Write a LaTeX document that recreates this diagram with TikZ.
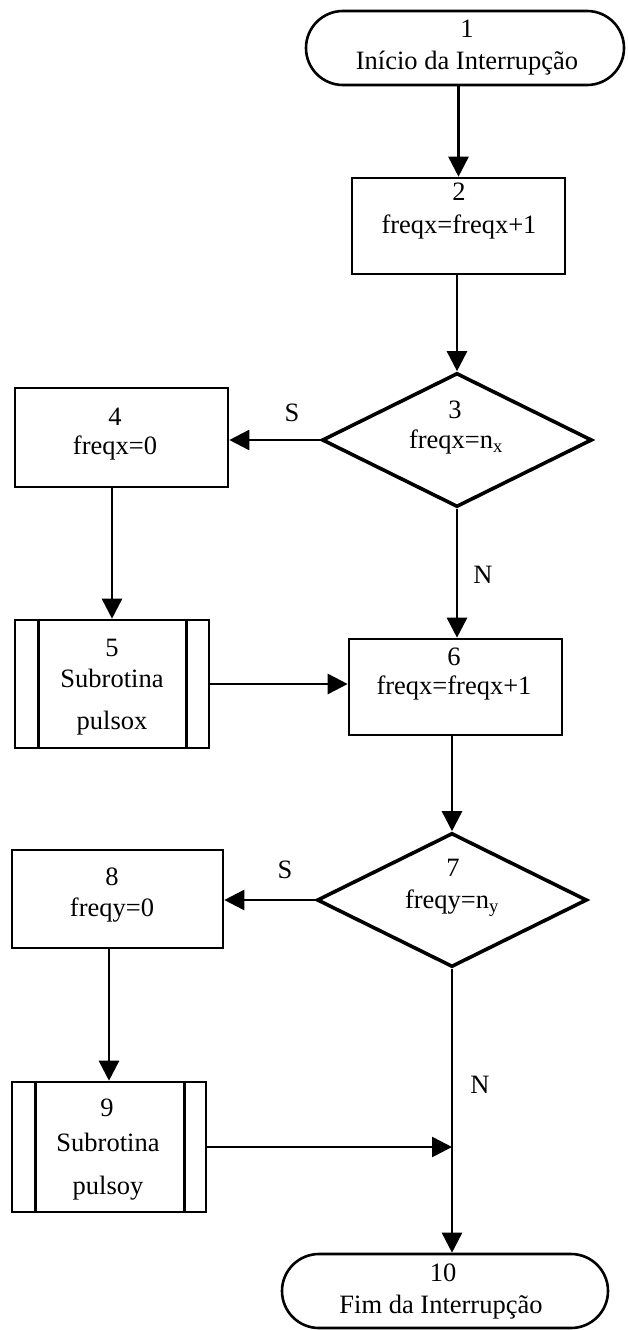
\documentclass[tikz,border=0pt]{standalone}
\usepackage{fontspec}
\setmainfont{Liberation Serif}
\usetikzlibrary{shapes.geometric,arrows.meta}
\begin{document}
\begin{tikzpicture}[x=1pt,y=-1pt,
  every node/.style={font=\fontsize{26.5}{31}\selectfont},
  shapebox/.style={draw, line width=2.6pt, inner sep=0pt, rectangle},
  term/.style={shapebox, rounded corners=37pt, minimum height=74pt},
  decis/.style={draw, line width=3.6pt, diamond, inner sep=0pt, minimum width=270pt, minimum height=134pt},
  txt/.style={inner sep=0pt, anchor=center},
  flow/.style={line width=2.6pt, -{Triangle[length=20pt,width=20pt]}},
  sub/.style={line width=2.6pt}
]
\useasboundingbox (0,0) rectangle (627,1330);

% shapes
\node[term, minimum width=318pt] (t1) at (465,48) {};
\node[shapebox, minimum width=213pt, minimum height=96pt] (b2) at (458.5,226) {};
\node[decis] (d3) at (457,440) {};
\node[shapebox, minimum width=213pt, minimum height=99pt] (b4) at (121.5,437.5) {};
\node[shapebox, minimum width=194pt, minimum height=128pt] (b5) at (112,684) {};
\node[shapebox, minimum width=213pt, minimum height=96pt] (b6) at (455.5,687) {};
\node[decis] (d7) at (452,900) {};
\node[shapebox, minimum width=211pt, minimum height=98pt] (b8) at (117.5,899) {};
\node[shapebox, minimum width=194pt, minimum height=130pt] (b9) at (109,1147) {};
\node[term, minimum width=326pt] (t10) at (445,1291) {};

% subroutine inner bars
\draw[sub] ([xshift=25pt]b5.north west) -- ([xshift=25pt]b5.south west);
\draw[sub] ([xshift=-24pt]b5.north east) -- ([xshift=-24pt]b5.south east);
\draw[sub] ([xshift=25pt]b9.north west) -- ([xshift=25pt]b9.south west);
\draw[sub] ([xshift=-23pt]b9.north east) -- ([xshift=-23pt]b9.south east);

% texts
\node[txt] (t1n) at (467,29) {1};
\node[txt] (t1t) at (467,63) {Início da Interrupção};
\node[txt] (b2n) at (459,192) {2};
\node[txt] (b2t) at (459,227) {freqx=freqx+1};
\node[txt] (d3n) at (455,410) {3};
\node[txt] (d3t) at (456,442) {freqx=n\textsubscript{x}};
\node[txt] (b4n) at (115,417) {4};
\node[txt] (b4t) at (115,448) {freqx=0};
\node[txt] (b5n) at (112,648) {5};
\node[txt] (b5t) at (112,678) {Subrotina};
\node[txt] (b5u) at (112,723) {pulsox};
\node[txt] (b6n) at (454,657) {6};
\node[txt] (b6t) at (454,688) {freqx=freqx+1};
\node[txt] (d7n) at (453,868) {7};
\node[txt] (d7t) at (452,903) {freqy=n\textsubscript{y}};
\node[txt] (b8n) at (112,877) {8};
\node[txt] (b8t) at (112,910) {freqy=0};
\node[txt] (b9n) at (107,1108) {9};
\node[txt] (b9t) at (108,1142) {Subrotina};
\node[txt] (b9u) at (108,1188) {pulsoy};
\node[txt] (t10n) at (443,1273) {10};
\node[txt] (t10t) at (441,1307) {Fim da Interrupção};

% branch labels
\node[txt] (s3) at (292,413) {S};
\node[txt] (n3) at (483,575) {N};
\node[txt] (s7) at (285,870) {S};
\node[txt] (n7) at (480,1085) {N};

% connectors
\draw[flow] (t1.south -| b2.north) -- (b2.north);
\draw[flow] (b2.south -| d3.north) -- (d3.north);
\draw[flow] (d3.west) -- (d3.west -| b4.east);
\draw[flow] (d3.south) -- (d3.south |- b6.north);
\draw[flow] (b5.north |- b4.south) -- (b5.north);
\draw[flow] (b5.east) -- (b5.east -| b6.west);
\draw[flow] (b6.south -| d7.north) -- (d7.north);
\draw[flow] (d7.west) -- (d7.west -| b8.east);
\draw[flow] (b9.north |- b8.south) -- (b9.north);
\coordinate (j) at (d7.south |- b9.east);
\draw[flow] (b9.east) -- (j);
\draw[flow] (d7.south) -- (d7.south |- t10.north);
\end{tikzpicture}
\end{document}
